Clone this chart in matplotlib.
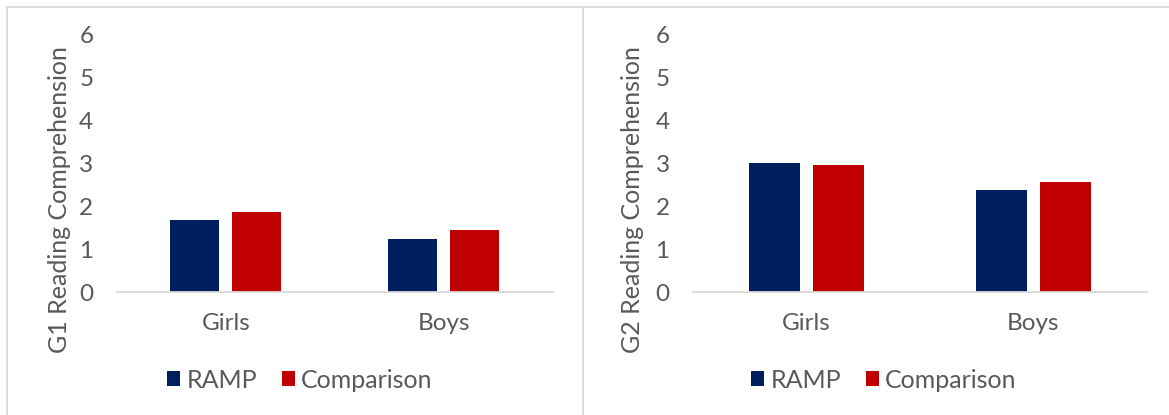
import matplotlib.pyplot as plt
from matplotlib.lines import Line2D
import numpy as np

plt.rcParams['font.family'] = ['Lato', 'DejaVu Sans']

groups = ["Girls", "Boys"]
series = ["RAMP", "Comparison"]
colors = ["#001f5f", "#c00000"]

g1_ramp = [1.68, 1.24]
g1_comp = [1.87, 1.45]
g2_ramp = [3.01, 2.38]
g2_comp = [2.97, 2.57]

text_col = "#595959"
grid_col = "#d9d9d9"
W, H = 1169.0, 415.0


def draw_panel(ax, ramp, comp, ylabel, label_x, legend_x):
    x = np.arange(len(groups)) + 0.5
    w = 0.225
    ax.bar(x - 0.142, ramp, w, color=colors[0], label=series[0])
    ax.bar(x + 0.142, comp, w, color=colors[1], label=series[1])
    ax.set_xlim(0, 2)
    ax.set_ylim(0, 6)
    ax.set_yticks(range(0, 7))
    ax.set_xticks(x)
    ax.set_xticklabels(groups)
    for s in ["top", "right", "left"]:
        ax.spines[s].set_visible(False)
    ax.spines["bottom"].set_color(grid_col)
    ax.spines["bottom"].set_linewidth(1.3)
    ax.tick_params(axis="both", length=0, colors=text_col, labelsize=17.5)
    ax.tick_params(axis="x", pad=15)
    ax.tick_params(axis="y", pad=17)
    ax.set_ylabel(ylabel, color=text_col, fontsize=18)
    # axis title sits a little below the middle of the plot area
    ax.yaxis.set_label_coords(label_x, 0.36)
    # legend is centred on the chart area, not on the plot area
    ax.legend(ncol=2, loc="center", bbox_to_anchor=(legend_x / W, 1 - 380 / H),
              bbox_transform=ax.figure.transFigure, frameon=False,
              handlelength=0.52, handleheight=0.52, handletextpad=0.25,
              columnspacing=1.0, fontsize=18, labelcolor=text_col)


fig = plt.figure(figsize=(11.69, 4.15), dpi=100)

ax1 = fig.add_axes([0.100, 0.296, 0.373, 0.620])
ax2 = fig.add_axes([0.593, 0.296, 0.388, 0.620])

draw_panel(ax1, g1_ramp, g1_comp, "G1 Reading Comprehension", -0.105, 300)
draw_panel(ax2, g2_ramp, g2_comp, "G2 Reading Comprehension", -0.108, 884)

# chart-area frames
fig.add_artist(Line2D([7 / W, 1.0], [1 - 7 / H, 1 - 7 / H], color=grid_col, lw=1.3))
fig.add_artist(Line2D([7 / W, 7 / W], [0, 1 - 7 / H], color=grid_col, lw=1.3))
fig.add_artist(Line2D([583 / W, 583 / W], [0, 1 - 7 / H], color=grid_col, lw=1.3))

fig.savefig("out.png", dpi=100)
